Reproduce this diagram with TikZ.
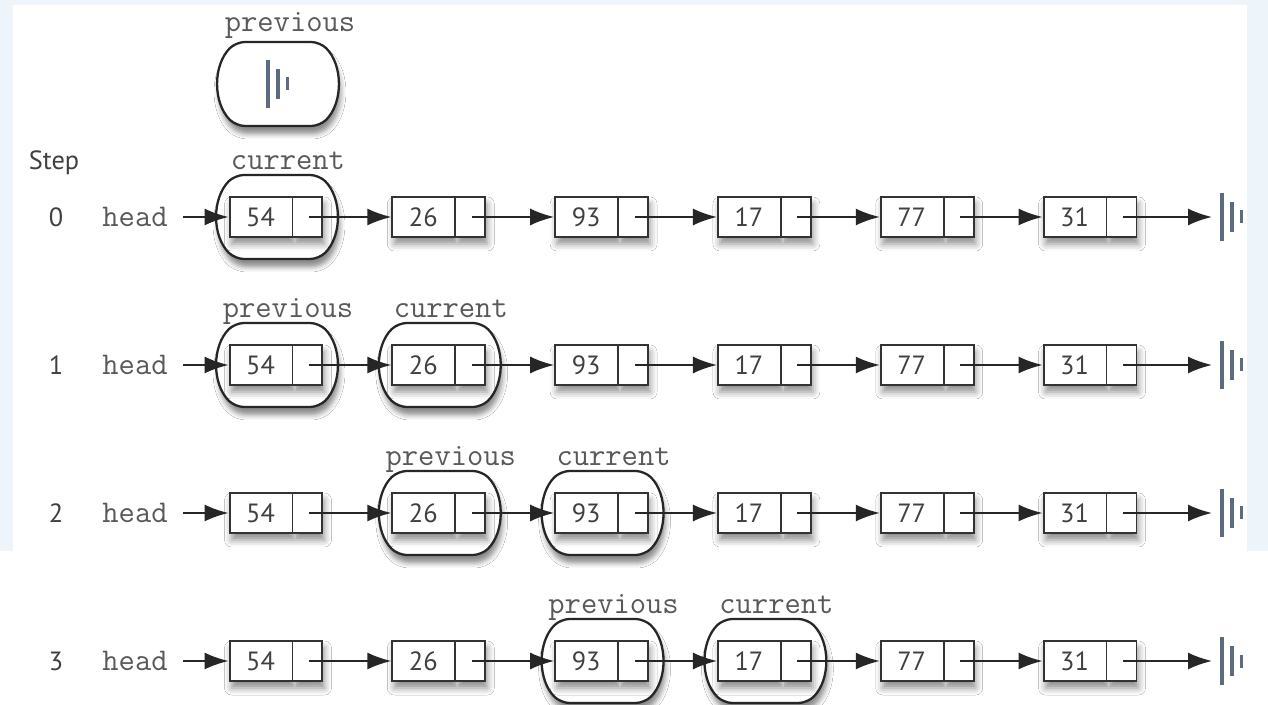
\documentclass[tikz,border=0pt]{standalone}
\usepackage{fontspec}
\newfontfamily\numfont{PT Sans}
\usetikzlibrary{arrows.meta,positioning,shapes.multipart,shapes.misc,shadows.blur}
\definecolor{paleblue}{HTML}{EEF5FA}
\definecolor{nilgray}{HTML}{5C6B80}

\tikzset{
  nullmark/.pic={
    \draw[bar] (0,-24) -- (0,24);
    \draw[bar] (10,-15) -- (10,15);
    \draw[bar,line width=2.2pt] (19.5,-6.5) -- (19.5,6.5);
  }
}

\begin{document}
\begin{tikzpicture}[x=0.02cm,y=0.02cm,
  cell/.style={rectangle split,rectangle split horizontal,rectangle split parts=2,
    draw=black!80,line width=1.1pt,fill=white,inner sep=0pt,minimum height=0.8cm,
    font=\numfont\fontsize{15}{15}\selectfont,text=black!75,
    blur shadow={shadow xshift=0.04cm,shadow yshift=-0.14cm,shadow blur radius=0.14cm,shadow opacity=45}},
  ring/.style={rounded rectangle,rounded rectangle arc length=90,rounded corners=5pt,draw=black!85,line width=1.3pt,
    fill=white,minimum width=2.6cm,minimum height=1.68cm,
    blur shadow={shadow xshift=0.04cm,shadow yshift=-0.16cm,shadow blur radius=0.1cm,shadow opacity=45}},
  tag/.style={font=\ttfamily\fontsize{18}{18}\selectfont,text=black!65,inner sep=0pt,anchor=base},
  side/.style={font=\numfont\fontsize{15}{15}\selectfont,text=black!75,inner sep=0pt},
  link/.style={-{Latex[length=0.48cm,width=0.34cm]},line width=1.1pt,draw=black!85},
  bar/.style={draw=nilgray,line width=1.8pt}
]
% page
\fill[paleblue] (0,0) rectangle (1268,-705);
\fill[white] (13,-5) rectangle (1247,-551);
\fill[white] (0,-551) rectangle (1268,-705);
\useasboundingbox (0,0) rectangle (1268,-705);

% previous = None
\node[ring] (prev) at (278,-84) {};
\pic at (268,-84) {nullmark};
\node[tag] (lprev) at ([xshift=0.24cm,yshift=0.18cm]prev.north) {previous};

% previous / current rings
\foreach \c/\r/\lab in {0/0/current,0/1/previous,1/1/current,1/2/previous,2/2/current,2/3/previous,3/3/current}{
  \node[ring] (ring\c\r) at ({277+162.8*\c},{-217-148*\r}) {};
  \node[tag] (tag\c\r) at ([xshift=0.22cm,yshift=0.08cm]ring\c\r.north) {\lab};
}

\node[side] (step) at (54,-163) {Step};

\foreach \r in {0,...,3}{
  \node[side] (num\r) at (56,{-217-148*\r}) {\r};
  \node[tag,anchor=center] (head\r) at (135,{-217-148*\r}) {head};
  \foreach \v [count=\c from 0] in {54,26,93,17,77,31}
    \node[cell] (n\r\c) at ({276+162.8*\c},{-217-148*\r}) {\makebox[1.24cm]{\v}\nodepart{two}\makebox[0.58cm]{}};
  \coordinate (end\r) at (1212,{-217-148*\r});
  \pic at (1222,{-217-148*\r}) {nullmark};
  \draw[link,shorten <=0.3cm] (head\r) -- (n\r0);
  \foreach \c/\d in {0/1,1/2,2/3,3/4,4/5}
    \draw[link] ([xshift=-0.29cm]n\r\c.east) -- (n\r\d.west);
  \draw[link] ([xshift=-0.29cm]n\r5.east) -- (end\r);
}
\end{tikzpicture}
\end{document}
